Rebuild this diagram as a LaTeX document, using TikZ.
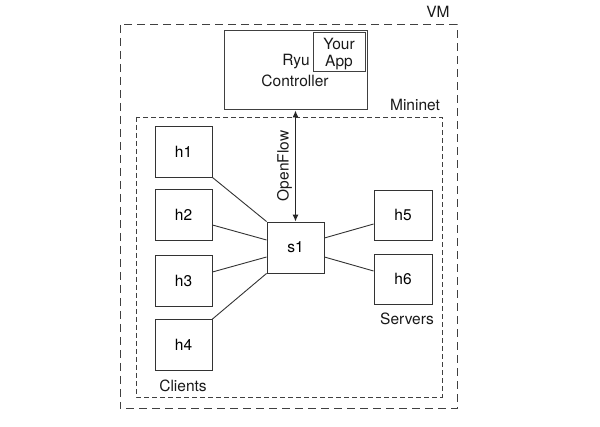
\documentclass[tikz,border=0pt]{standalone}
\usepackage{fontspec}
\setmainfont{TeX Gyre Heros}
\usetikzlibrary{arrows.meta}
\begin{document}
\begin{tikzpicture}[x=1pt,y=-1pt,
  lbl/.style={font=\fontsize{15.5}{17}\selectfont, text=black!90, inner sep=0pt},
  hostbox/.style={draw=black!80, line width=0.9pt, minimum width=57pt, minimum height=51pt, inner sep=0pt, font=\fontsize{15.5}{17}\selectfont},
  link/.style={draw=black!80, line width=0.9pt},
  ctlbox/.style={draw=black!75, line width=1pt, inner sep=0pt},
  vmline/.style={draw=black!75, line width=1pt, dash pattern=on 8pt off 5pt},
  mnline/.style={draw=black!75, line width=0.9pt, dash pattern=on 5pt off 3pt}]
\useasboundingbox (0,0) rectangle (600,427);
% VM and Mininet frames
\draw[vmline] (120,25) rectangle (457,409);
\node[lbl] (vmlabel) at (438,12) {VM};
\draw[mnline] (136,117) rectangle (442,397);
\node[lbl] (mnlabel) at (415,105) {Mininet};
% Controller
\node[ctlbox, minimum width=143pt, minimum height=79pt] (ryu) at (295.5,70.5) {};
\node[ctlbox, minimum width=52pt, minimum height=39pt] (app) at (339,52.5) {};
\node[lbl] (your) at (339,44) {Your};
\node[lbl] (apptext) at (339,63) {App};
\node[lbl] (ryutext) at (296,62) {Ryu};
\node[lbl] (controller) at (295,81) {Controller};
% hosts and switch
\node[hostbox] (h1) at (183.5,151.5) {h1};
\node[hostbox] (h2) at (183.5,215) {h2};
\node[hostbox] (h3) at (183.5,280.5) {h3};
\node[hostbox] (h4) at (183.5,345) {h4};
\node[hostbox] (s1) at (295.5,247.5) {s1};
\node[hostbox, minimum width=58pt, minimum height=50pt] (h5) at (403,215) {h5};
\node[hostbox, minimum width=58pt, minimum height=50pt] (h6) at (403,279) {h6};
% links
\draw[link] (h1.south east) -- (s1.north west);
\draw[link] ([yshift=-10pt]h2.east) -- ([yshift=7.5pt]s1.west);
\draw[link] ([yshift=8.5pt]h3.east) -- ([yshift=-9.5pt]s1.west);
\draw[link] (h4.north east) -- (s1.south west);
\draw[link] ([yshift=9.5pt]s1.east) -- ([yshift=-9pt]h5.west);
\draw[link] ([yshift=-9.5pt]s1.east) -- ([yshift=8pt]h6.west);
% OpenFlow
\draw[line width=1pt, black!85, {Latex[length=7pt,width=6pt]}-{Latex[length=7pt,width=6pt]}] (s1.north) -- (s1.north |- ryu.south) node[midway, left=3pt, rotate=90, anchor=south, lbl] (of) {OpenFlow};
% group labels
\node[lbl] (servers) at (407,319) {Servers};
\node[lbl] (clients) at (183,386) {Clients};
\end{tikzpicture}
\end{document}
